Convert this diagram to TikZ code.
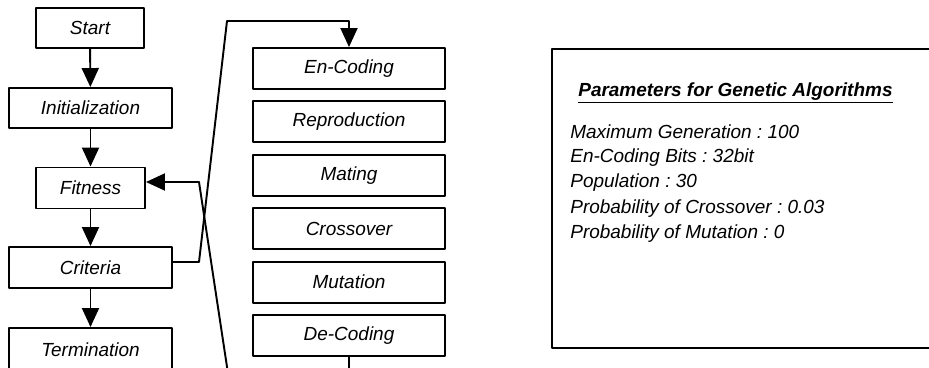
\documentclass[tikz,border=0pt]{standalone}
\usepackage{fontspec}
\setmainfont{Liberation Sans}
\usetikzlibrary{arrows.meta}
\frenchspacing

\tikzset{
  stepbox/.style={draw, line width=1.1pt, inner sep=0pt,
    font=\fontsize{10.8}{13}\selectfont\itshape},
  flow/.style={line width=1.1pt, -{Triangle[length=0.38cm,width=0.34cm]}},
  partext/.style={anchor=west, inner sep=0pt,
    font=\fontsize{10.8}{13}\selectfont\itshape}
}

\begin{document}
\begin{tikzpicture}[line cap=round,line join=round,x=0.02cm,y=-0.02cm]

		\useasboundingbox (0,0) rectangle (929,368);
		\clip (0,0) rectangle (929,368);

		%vasen sarake
		\node[stepbox, minimum width=108*0.02cm, minimum height=40*0.02cm] (start) at (90,28) {Start};
		\node[stepbox, minimum width=163*0.02cm, minimum height=40*0.02cm] (init) at (90.5,108) {Initialization};
		\node[stepbox, minimum width=109*0.02cm, minimum height=41*0.02cm] (fit) at (90.5,188) {Fitness};
		\node[stepbox, minimum width=163*0.02cm, minimum height=41*0.02cm] (crit) at (90.5,267.5) {Criteria};
		\node[stepbox, minimum width=163*0.02cm, minimum height=44*0.02cm] (term) at (90.5,350) {Termination};

		\draw[flow] (start) -- (init);
		\draw[flow] (init) -- (fit);
		\draw[flow] (fit) -- (crit);
		\draw[flow] (crit) -- (term);

		%oikea sarake
		\foreach \name/\txt [count=\i from 0] in {enc/En-Coding, rep/Reproduction, mat/Mating, cro/Crossover, mut/Mutation, dec/De-Coding}
		{
		\node[stepbox, minimum width=192*0.02cm, minimum height=41*0.02cm] (\name) at (349,68.5+53.4*\i) {\txt};
		}

		% silmukka
		\coordinate (kink1) at (199,262);
		\coordinate (top1) at (227,21);
		\coordinate (kink2) at (199,182);
		\coordinate (bot1) at (229,380);

		\draw[flow] (crit.east |- kink1) -- (kink1) -- (top1) -- (top1 -| enc.north) -- (enc.north);
		\draw[flow] (dec.south) -- (dec.south |- bot1) -- (bot1) -- (kink2) -- (kink2 -| fit.east);

		% parametrit
		\node[draw, line width=1.1pt, minimum width=388*0.02cm, minimum height=299*0.02cm] (params) at (746,198.5) {};
		\node[partext, font=\fontsize{10.8}{13}\selectfont\bfseries\itshape] (ptitle) at (578,93) {\underline{Parameters for Genetic Algorithms}};
		\foreach \txt [count=\i from 0] in {Maximum Generation : 100, En-Coding Bits : 32bit, Population : 30, Probability of Crossover : 0.03, Probability of Mutation : 0}
		{
		\node[partext] (p\i) at (570,132+25.5*\i) {\txt};
		}

	\end{tikzpicture}
\end{document}
